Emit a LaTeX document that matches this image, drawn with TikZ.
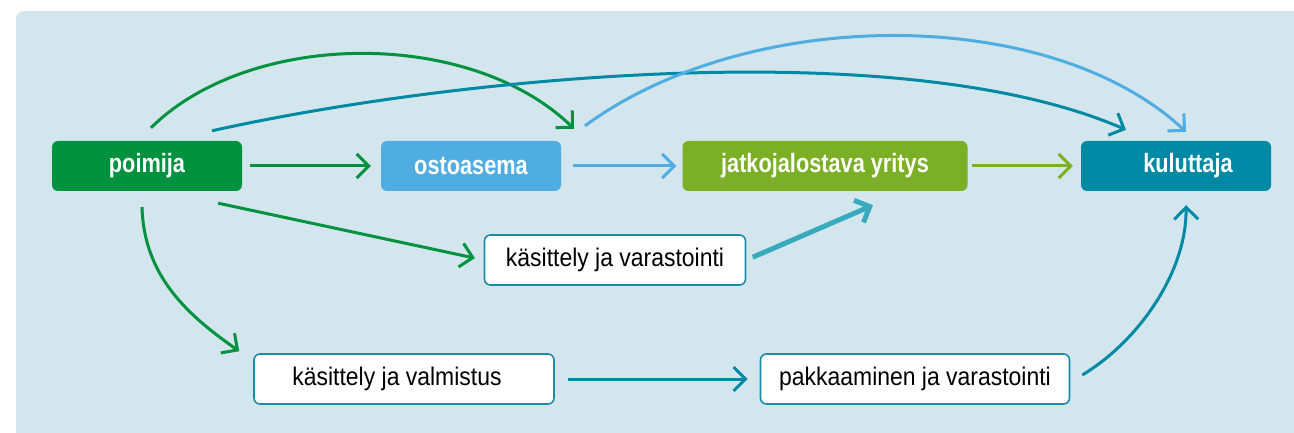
\documentclass[tikz,border=0pt]{standalone}
\usepackage{fontspec}
\setmainfont{Liberation Sans}[FakeStretch=0.9]
\newfontfamily\headfont{Liberation Sans}[FakeStretch=0.82]
\usetikzlibrary{arrows.meta}
\definecolor{bgblue}{RGB}{211,230,237}
\definecolor{leafgreen}{RGB}{0,146,62}
\definecolor{skyblue}{RGB}{79,173,226}
\definecolor{olivegreen}{RGB}{122,175,38}
\definecolor{petrol}{RGB}{0,137,164}
\definecolor{aqua}{RGB}{56,170,190}
\definecolor{boxline}{RGB}{26,140,166}
\tikzset{
  box/.style={rounded corners=6pt,minimum height=50pt,inner sep=0pt,text=white,font=\headfont\fontsize{26.5}{30}\selectfont\bfseries},
  whitebox/.style={rounded corners=6pt,minimum height=50pt,inner sep=0pt,draw=boxline,line width=1.6pt,fill=white,font=\fontsize{25.5}{29}\selectfont},
  flow/.style={line width=3pt,-{Straight Barb[length=12pt,width=24pt]}}
}
\begin{document}
\begin{tikzpicture}[x=1pt,y=-1pt]
\clip (0,0) rectangle (1294,433);
\fill[bgblue,rounded corners=8pt] (16,11) rectangle (1320,460);
\node[box,fill=leafgreen,minimum width=190pt] (poimija) at (147,166) {poimija};
\node[box,fill=skyblue,minimum width=180pt] (osto) at (471,166) {ostoasema};
\node[box,fill=olivegreen,minimum width=285pt] (jatko) at (825,166) {jatkojalostava yritys};
\node[box,fill=petrol,minimum width=190pt] (kuluttaja) at (1176,166) {\hspace*{24pt}kuluttaja};
\node[whitebox,minimum width=261pt] (kasvar) at (615,260) {käsittely ja varastointi};
\node[whitebox,minimum width=300pt] (kasval) at (404,379) {käsittely ja valmistus\hspace*{14pt}};
\node[whitebox,minimum width=309pt] (pakkaus) at (915,379) {pakkaaminen ja varastointi};
\draw[flow,leafgreen,shorten <=8pt,shorten >=10pt] (poimija.east) -- (osto.west);
\draw[flow,skyblue,shorten <=12pt,shorten >=6pt] (osto.east) -- (jatko.west);
\draw[flow,olivegreen,shorten <=4pt,shorten >=8pt] (jatko.east) -- (kuluttaja.west);
\draw[flow,leafgreen] ([shift={(4,-13)}]poimija.north) .. controls +(99,-98) and +(-104,-101) .. ([shift={(103,-12)}]osto.north);
\draw[flow,petrol] ([shift={(65,-10)}]poimija.north) .. controls +(238,-53) and +(-226,-98) .. ([shift={(-50,-11)}]kuluttaja.north);
\draw[flow,skyblue] ([shift={(114,-15)}]osto.north) .. controls +(165,-121) and +(-136,-127) .. ([shift={(10,-9)}]kuluttaja.north);
\draw[flow,leafgreen,shorten >=9pt] ([shift={(-24,12)}]poimija.south east) -- (kasvar.west);
\draw[flow,leafgreen] ([shift={(-5,16)}]poimija.south) .. controls +(2,70) and +(-50,-35) .. ([shift={(-14,-2)}]kasval.north west);
\draw[flow,aqua,line width=5pt,shorten <=7pt] (kasvar.east) -- ([shift={(48,14)}]jatko.south);
\draw[flow,petrol,shorten <=13pt,shorten >=12pt] (kasval.east) -- (pakkaus.west);
\draw[flow,petrol] ([shift={(12,-4)}]pakkaus.east) .. controls +(58,-35) and +(1,65) .. ([shift={(10,14)}]kuluttaja.south);
\end{tikzpicture}
\end{document}
